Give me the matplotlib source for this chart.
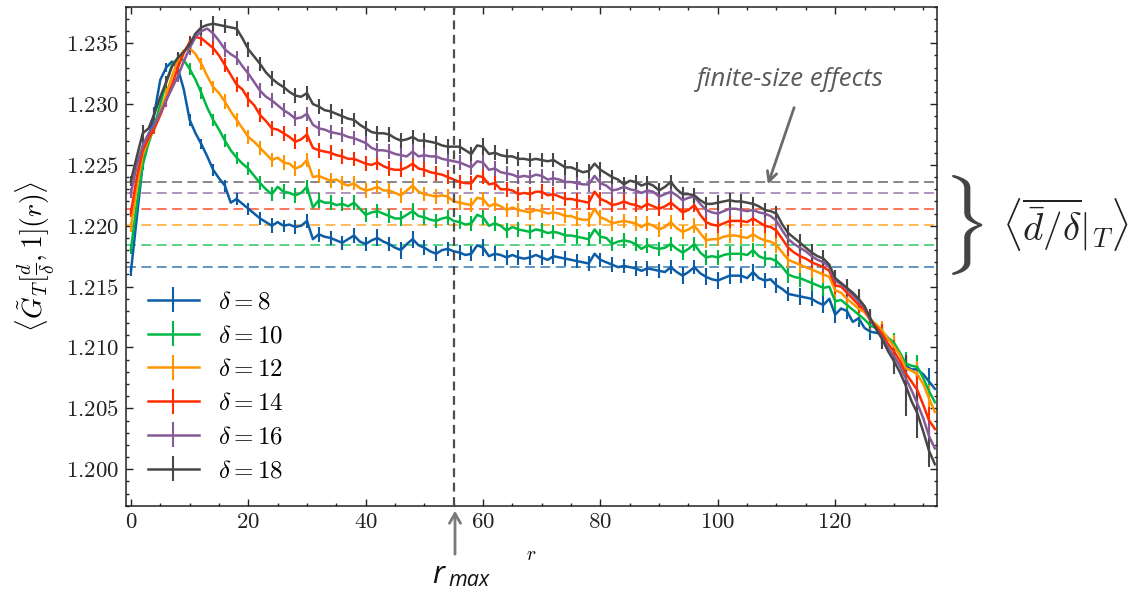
import numpy as np
import matplotlib
matplotlib.use("Agg")
import matplotlib.pyplot as plt
from matplotlib.ticker import MultipleLocator

plt.rcParams['font.family'] = 'serif'
plt.rcParams['font.serif'] = ['cmr10', 'DejaVu Serif']
plt.rcParams['mathtext.fontset'] = 'cm'
plt.rcParams['axes.formatter.use_mathtext'] = True
plt.rcParams['axes.unicode_minus'] = False

# distances r
r = np.arange(0, 138)

deltas = [8, 10, 12, 14, 16, 18]
colors = ['#0C5DA5', '#00B945', '#FF9500', '#FF2C00', '#845B97', '#474747']

# <G_T>(r) for every delta
g8 = [1.2163, 1.2207, 1.2251, 1.2272, 1.2293, 1.2320, 1.2330, 1.2335, 1.2329, 1.2312,
      1.2287, 1.2276, 1.2267, 1.2257, 1.2246, 1.2239, 1.2233, 1.2219, 1.2222, 1.2218,
      1.2214, 1.2210, 1.2206, 1.2203, 1.2200, 1.2203, 1.2200, 1.2201, 1.2199, 1.2200,
      1.2204, 1.2189, 1.2193, 1.2191, 1.2190, 1.2188, 1.2186, 1.2189, 1.2192, 1.2187,
      1.2185, 1.2188, 1.2190, 1.2187, 1.2185, 1.2182, 1.2180, 1.2185, 1.2189, 1.2184,
      1.2182, 1.2179, 1.2177, 1.2180, 1.2181, 1.2179, 1.2178, 1.2176, 1.2177, 1.2184,
      1.2182, 1.2175, 1.2177, 1.2176, 1.2174, 1.2176, 1.2174, 1.2173, 1.2174, 1.2176,
      1.2174, 1.2172, 1.2175, 1.2174, 1.2173, 1.2172, 1.2171, 1.2170, 1.2169, 1.2177,
      1.2172, 1.2170, 1.2168, 1.2166, 1.2167, 1.2166, 1.2165, 1.2163, 1.2165, 1.2164,
      1.2163, 1.2162, 1.2166, 1.2162, 1.2159, 1.2162, 1.2166, 1.2161, 1.2158, 1.2156,
      1.2155, 1.2157, 1.2159, 1.2159, 1.2159, 1.2157, 1.2162, 1.2157, 1.2155, 1.2156,
      1.2151, 1.2148, 1.2144, 1.2143, 1.2142, 1.2141, 1.2140, 1.2137, 1.2135, 1.2140,
      1.2127, 1.2132, 1.2130, 1.2121, 1.2124, 1.2116, 1.2113, 1.2112, 1.2111, 1.2107,
      1.2103, 1.2095, 1.2085, 1.2082, 1.2082, 1.2078, 1.2072, 1.2066]

g10 = [1.2181, 1.2218, 1.2250, 1.2268, 1.2282, 1.2300, 1.2318, 1.2332, 1.2338, 1.2336,
       1.2329, 1.2320, 1.2309, 1.2297, 1.2287, 1.2279, 1.2270, 1.2262, 1.2256, 1.2251,
       1.2247, 1.2241, 1.2235, 1.2230, 1.2226, 1.2232, 1.2228, 1.2227, 1.2225, 1.2227,
       1.2232, 1.2215, 1.2221, 1.2219, 1.2219, 1.2217, 1.2218, 1.2216, 1.2219, 1.2214,
       1.2209, 1.2211, 1.2212, 1.2210, 1.2208, 1.2206, 1.2206, 1.2209, 1.2212, 1.2208,
       1.2207, 1.2205, 1.2204, 1.2206, 1.2207, 1.2204, 1.2203, 1.2201, 1.2202, 1.2209,
       1.2207, 1.2200, 1.2202, 1.2200, 1.2196, 1.2199, 1.2197, 1.2196, 1.2195, 1.2197,
       1.2196, 1.2194, 1.2195, 1.2194, 1.2192, 1.2192, 1.2191, 1.2190, 1.2189, 1.2197,
       1.2191, 1.2190, 1.2185, 1.2187, 1.2188, 1.2187, 1.2185, 1.2181, 1.2184, 1.2182,
       1.2181, 1.2182, 1.2185, 1.2181, 1.2178, 1.2181, 1.2185, 1.2178, 1.2174, 1.2175,
       1.2174, 1.2176, 1.2177, 1.2177, 1.2177, 1.2176, 1.2180, 1.2175, 1.2173, 1.2173,
       1.2171, 1.2166, 1.2160, 1.2158, 1.2157, 1.2155, 1.2153, 1.2151, 1.2149, 1.2150,
       1.2138, 1.2139, 1.2135, 1.2131, 1.2127, 1.2123, 1.2118, 1.2116, 1.2113, 1.2108,
       1.2104, 1.2096, 1.2087, 1.2085, 1.2084, 1.2075, 1.2064, 1.2055]

g12 = [1.2199, 1.2232, 1.2258, 1.2271, 1.2281, 1.2294, 1.2308, 1.2323, 1.2336, 1.2344,
       1.2346, 1.2341, 1.2333, 1.2323, 1.2314, 1.2309, 1.2302, 1.2294, 1.2287, 1.2280,
       1.2273, 1.2269, 1.2264, 1.2259, 1.2254, 1.2256, 1.2252, 1.2251, 1.2247, 1.2249,
       1.2254, 1.2240, 1.2241, 1.2239, 1.2237, 1.2238, 1.2235, 1.2233, 1.2235, 1.2231,
       1.2229, 1.2230, 1.2232, 1.2229, 1.2229, 1.2227, 1.2225, 1.2229, 1.2233, 1.2228,
       1.2226, 1.2225, 1.2224, 1.2225, 1.2224, 1.2220, 1.2219, 1.2218, 1.2217, 1.2223,
       1.2222, 1.2216, 1.2218, 1.2216, 1.2213, 1.2215, 1.2213, 1.2212, 1.2211, 1.2213,
       1.2212, 1.2210, 1.2211, 1.2210, 1.2208, 1.2208, 1.2206, 1.2205, 1.2205, 1.2214,
       1.2207, 1.2205, 1.2202, 1.2203, 1.2204, 1.2203, 1.2202, 1.2199, 1.2202, 1.2200,
       1.2197, 1.2199, 1.2203, 1.2198, 1.2195, 1.2197, 1.2200, 1.2194, 1.2188, 1.2189,
       1.2189, 1.2191, 1.2192, 1.2192, 1.2191, 1.2190, 1.2193, 1.2190, 1.2188, 1.2187,
       1.2184, 1.2178, 1.2172, 1.2170, 1.2168, 1.2166, 1.2164, 1.2162, 1.2160, 1.2158,
       1.2147, 1.2145, 1.2140, 1.2136, 1.2132, 1.2129, 1.2123, 1.2119, 1.2114, 1.2107,
       1.2101, 1.2094, 1.2083, 1.2081, 1.2078, 1.2070, 1.2058, 1.2047]

g14 = [1.2211, 1.2240, 1.2262, 1.2272, 1.2280, 1.2291, 1.2303, 1.2316, 1.2330, 1.2342,
       1.2351, 1.2355, 1.2354, 1.2350, 1.2346, 1.2340, 1.2332, 1.2324, 1.2316, 1.2312,
       1.2304, 1.2299, 1.2291, 1.2286, 1.2280, 1.2279, 1.2276, 1.2273, 1.2269, 1.2271,
       1.2275, 1.2264, 1.2262, 1.2261, 1.2260, 1.2258, 1.2257, 1.2255, 1.2255, 1.2253,
       1.2251, 1.2250, 1.2252, 1.2249, 1.2247, 1.2246, 1.2246, 1.2248, 1.2251, 1.2247,
       1.2246, 1.2244, 1.2243, 1.2242, 1.2240, 1.2238, 1.2236, 1.2235, 1.2235, 1.2241,
       1.2240, 1.2234, 1.2235, 1.2230, 1.2230, 1.2229, 1.2226, 1.2227, 1.2226, 1.2228,
       1.2228, 1.2225, 1.2226, 1.2224, 1.2222, 1.2222, 1.2221, 1.2220, 1.2219, 1.2228,
       1.2222, 1.2220, 1.2217, 1.2218, 1.2220, 1.2218, 1.2217, 1.2215, 1.2218, 1.2216,
       1.2214, 1.2216, 1.2219, 1.2215, 1.2211, 1.2213, 1.2217, 1.2209, 1.2203, 1.2201,
       1.2200, 1.2202, 1.2204, 1.2204, 1.2204, 1.2203, 1.2206, 1.2203, 1.2200, 1.2199,
       1.2196, 1.2189, 1.2182, 1.2178, 1.2175, 1.2173, 1.2170, 1.2168, 1.2166, 1.2163,
       1.2151, 1.2150, 1.2145, 1.2140, 1.2135, 1.2131, 1.2122, 1.2117, 1.2111, 1.2103,
       1.2097, 1.2089, 1.2079, 1.2072, 1.2065, 1.2053, 1.2040, 1.2033]

g16 = [1.2227, 1.2250, 1.2266, 1.2276, 1.2283, 1.2293, 1.2303, 1.2313, 1.2323, 1.2335,
       1.2346, 1.2355, 1.2360, 1.2362, 1.2358, 1.2352, 1.2345, 1.2341, 1.2338, 1.2331,
       1.2325, 1.2318, 1.2311, 1.2306, 1.2303, 1.2299, 1.2295, 1.2292, 1.2288, 1.2289,
       1.2292, 1.2283, 1.2280, 1.2279, 1.2277, 1.2276, 1.2275, 1.2273, 1.2272, 1.2270,
       1.2268, 1.2264, 1.2262, 1.2262, 1.2261, 1.2259, 1.2258, 1.2257, 1.2261, 1.2257,
       1.2258, 1.2257, 1.2257, 1.2255, 1.2254, 1.2253, 1.2252, 1.2250, 1.2248, 1.2253,
       1.2252, 1.2246, 1.2247, 1.2244, 1.2243, 1.2242, 1.2240, 1.2241, 1.2240, 1.2242,
       1.2241, 1.2238, 1.2239, 1.2238, 1.2236, 1.2236, 1.2235, 1.2234, 1.2234, 1.2241,
       1.2235, 1.2233, 1.2229, 1.2230, 1.2232, 1.2230, 1.2229, 1.2227, 1.2229, 1.2228,
       1.2224, 1.2226, 1.2228, 1.2225, 1.2221, 1.2223, 1.2224, 1.2218, 1.2213, 1.2211,
       1.2210, 1.2212, 1.2214, 1.2214, 1.2213, 1.2212, 1.2213, 1.2211, 1.2210, 1.2208,
       1.2204, 1.2196, 1.2189, 1.2185, 1.2182, 1.2179, 1.2175, 1.2172, 1.2170, 1.2166,
       1.2155, 1.2152, 1.2148, 1.2143, 1.2138, 1.2133, 1.2123, 1.2115, 1.2108, 1.2100,
       1.2093, 1.2085, 1.2075, 1.2065, 1.2054, 1.2042, 1.2027, 1.2017]

g18 = [1.2237, 1.2257, 1.2276, 1.2280, 1.2292, 1.2306, 1.2318, 1.2331, 1.2338, 1.2343,
       1.2349, 1.2358, 1.2363, 1.2365, 1.2366, 1.2365, 1.2364, 1.2363, 1.2362, 1.2354,
       1.2345, 1.2339, 1.2333, 1.2326, 1.2321, 1.2317, 1.2314, 1.2310, 1.2307, 1.2306,
       1.2309, 1.2300, 1.2298, 1.2295, 1.2294, 1.2292, 1.2290, 1.2288, 1.2287, 1.2283,
       1.2280, 1.2277, 1.2276, 1.2276, 1.2275, 1.2272, 1.2270, 1.2271, 1.2273, 1.2270,
       1.2270, 1.2269, 1.2268, 1.2266, 1.2265, 1.2265, 1.2265, 1.2262, 1.2259, 1.2266,
       1.2265, 1.2259, 1.2260, 1.2258, 1.2257, 1.2257, 1.2255, 1.2255, 1.2254, 1.2255,
       1.2254, 1.2253, 1.2254, 1.2251, 1.2248, 1.2248, 1.2246, 1.2244, 1.2245, 1.2251,
       1.2246, 1.2243, 1.2240, 1.2238, 1.2234, 1.2237, 1.2236, 1.2233, 1.2235, 1.2233,
       1.2229, 1.2232, 1.2236, 1.2230, 1.2226, 1.2226, 1.2225, 1.2221, 1.2218, 1.2218,
       1.2219, 1.2220, 1.2221, 1.2220, 1.2220, 1.2219, 1.2218, 1.2216, 1.2213, 1.2212,
       1.2210, 1.2201, 1.2194, 1.2190, 1.2186, 1.2182, 1.2178, 1.2175, 1.2173, 1.2168,
       1.2157, 1.2153, 1.2149, 1.2145, 1.2140, 1.2134, 1.2124, 1.2115, 1.2107, 1.2097,
       1.2089, 1.2080, 1.2069, 1.2056, 1.2046, 1.2031, 1.2015, 1.2004]

# error bars at even r, in units of 1e-4
ERR_UNIT = 1e-4
e8 = [4, 5, 5, 4, 4, 5, 4, 5, 5, 5, 5, 5, 6, 5, 6, 6, 6, 6, 6, 6, 6, 7, 6, 7, 7, 6, 6, 6, 6, 6,
      7, 6, 6, 6, 6, 6, 6, 6, 6, 6, 6, 6, 6, 6, 6, 6, 6, 7, 6, 7, 7, 7, 6, 7, 6, 6, 6, 7, 6, 7,
      7, 7, 7, 7, 8, 8, 9, 9, 11]
e10 = [4, 4, 5, 4, 4, 5, 5, 5, 5, 5, 5, 6, 6, 6, 6, 6, 6, 6, 6, 6, 6, 6, 6, 6, 7, 6, 6, 6, 6, 6,
       6, 6, 6, 6, 6, 6, 6, 6, 6, 6, 6, 6, 6, 6, 6, 6, 6, 6, 6, 6, 6, 6, 6, 6, 6, 6, 7, 7, 7, 7,
       7, 7, 7, 7, 8, 8, 9, 10, 10]
e12 = [4, 4, 5, 5, 5, 5, 5, 5, 6, 6, 6, 6, 6, 6, 6, 6, 6, 6, 6, 6, 6, 6, 6, 6, 6, 6, 6, 6, 6, 6,
       6, 6, 6, 6, 6, 6, 6, 6, 6, 6, 6, 6, 6, 6, 6, 6, 6, 6, 6, 6, 6, 6, 6, 6, 6, 6, 7, 7, 7, 7,
       7, 7, 7, 7, 8, 9, 10, 11, 11]
e14 = [4, 5, 5, 5, 5, 5, 6, 6, 6, 6, 6, 6, 6, 6, 6, 6, 6, 6, 6, 6, 6, 6, 6, 6, 6, 6, 6, 6, 6, 6,
       6, 6, 6, 6, 6, 6, 6, 6, 6, 6, 6, 6, 6, 6, 6, 6, 6, 6, 6, 6, 6, 6, 6, 6, 6, 6, 7, 7, 7, 7,
       7, 7, 7, 8, 8, 9, 12, 12, 11]
e16 = [4, 5, 5, 5, 5, 6, 6, 6, 6, 6, 6, 6, 6, 6, 6, 6, 6, 6, 6, 6, 6, 6, 6, 6, 6, 6, 6, 6, 6, 6,
       6, 6, 6, 6, 6, 6, 6, 6, 6, 6, 6, 6, 6, 6, 6, 6, 6, 6, 6, 6, 6, 6, 6, 6, 6, 6, 7, 7, 7, 7,
       7, 7, 7, 8, 8, 10, 15, 14, 12]
e18 = [4, 7, 5, 5, 5, 6, 6, 6, 6, 6, 6, 6, 6, 6, 6, 6, 6, 6, 6, 6, 6, 6, 6, 6, 6, 6, 6, 6, 6, 6,
       7, 6, 6, 6, 6, 6, 6, 6, 6, 6, 6, 6, 6, 6, 6, 6, 6, 6, 6, 6, 6, 6, 6, 6, 6, 6, 7, 7, 7, 7,
       7, 7, 8, 8, 8, 11, 25, 20, 13]

# <d/delta>_T for every delta (dashed lines)
d_over_delta = [1.2166, 1.2184, 1.2201, 1.2214, 1.2227, 1.2236]
r_max = 55

series = [g8, g10, g12, g14, g16, g18]
errors = [e8, e10, e12, e14, e16, e18]

W, H = 1133, 591
fig = plt.figure(figsize=(W / 100, H / 100), dpi=100)
ax = fig.add_axes([125.7 / W, 1 - 505.7 / H, 811 / W, 499 / H])

for d, c, y, e in zip(deltas, colors, series, errors):
    err = np.zeros(len(r))
    err[::2] = np.array(e) * ERR_UNIT
    ax.errorbar(r, y, yerr=err, errorevery=2, color=c, lw=1.8, elinewidth=1.5,
                capsize=0, label=r'$\delta = %d$' % d, zorder=3)

for c, m in zip(colors, d_over_delta):
    ax.axhline(m, color=c, alpha=0.7, lw=1.3, ls=(0, (5.5, 3)), zorder=2)

ax.axvline(r_max, color='#4d4d4d', lw=1.6, ls=(0, (4, 2.5)), zorder=4)

ax.set_xlim(-0.9, 137.3)
ax.set_ylim(1.1970, 1.2380)
ax.xaxis.set_major_locator(MultipleLocator(20))
ax.xaxis.set_minor_locator(MultipleLocator(5))
ax.yaxis.set_major_locator(MultipleLocator(0.005))
ax.yaxis.set_minor_locator(MultipleLocator(0.001))
ax.tick_params(which='both', direction='in', top=True, right=True, width=1,
               labelsize=16.5, colors='#222222')
ax.tick_params(which='major', length=5, pad=5)
ax.tick_params(which='minor', length=2.5)
for s in ax.spines.values():
    s.set_linewidth(1.1)
    s.set_color('#222222')

ax.set_xlabel(r'$r$', fontsize=14, labelpad=10)
ax.set_ylabel(r'$\langle \tilde{G}_T[\frac{d}{\delta},1](r) \rangle$', fontsize=20, labelpad=6)

ax.legend(loc='upper left', bbox_to_anchor=(0.015, 0.45), frameon=False, fontsize=18,
          handlelength=2.05, handletextpad=0.75, labelspacing=0.45, borderaxespad=0)

# slide annotations
fig.text(790 / W, 1 - 80 / H, 'finite-size effects', family='Open Sans', style='italic',
         fontsize=18.5, color='#5a5a5a', ha='center', va='center')
ax.annotate('', xy=(767, H - 187), xytext=(795, H - 105), xycoords='figure pixels',
            textcoords='figure pixels',
            arrowprops=dict(arrowstyle='->,head_length=0.7,head_width=0.35', color='#6b6b6b', lw=2))
fig.text(963 / W, 1 - 225 / H, r'$\}$', fontsize=60, color='#444444', ha='center', va='center')
fig.text(1065 / W, 1 - 225 / H, r'$\left\langle \overline{\bar{d}/\delta}|_T \right\rangle$',
         fontsize=28, color='#222222', ha='center', va='center')

ax.annotate('', xy=(455, H - 508), xytext=(455, H - 557), xycoords='figure pixels',
            textcoords='figure pixels',
            arrowprops=dict(arrowstyle='->,head_length=0.7,head_width=0.4', color='#7a7a7a', lw=2))
fig.text(432 / W, 1 - 583 / H, 'r', family='Open Sans', style='italic', fontsize=22,
         color='#111111', va='baseline')
fig.text(448 / W, 1 - 586 / H, 'max', family='Open Sans', style='italic', fontsize=15.5,
         color='#111111', va='baseline')

fig.savefig('out.png', dpi=100)
